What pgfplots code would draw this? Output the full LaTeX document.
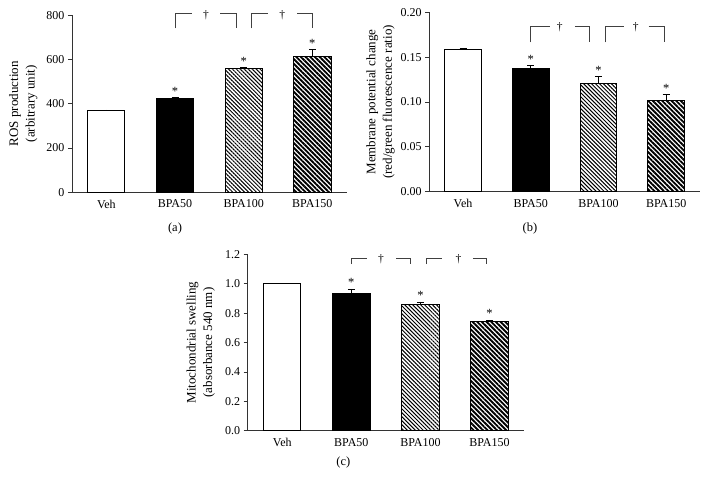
\documentclass[border=0pt]{standalone}
\usepackage{fontspec}
\setmainfont{Liberation Serif}
\usepackage{pgfplots}
\pgfplotsset{compat=1.18}
\usetikzlibrary{patterns.meta}
\tikzset{brk/.style={line width=0.8pt, black!75},
  ast/.style={above, font=\fontsize{12.5}{14}\selectfont, inner sep=2pt},
  dag/.style={font=\fontsize{11.5}{13}\selectfont}}
\pgfplotsset{
  panel/.style={
    scale only axis,
    axis lines=left,
    axis line style={-, line width=0.8pt, black!80},
    xmin=-0.5, xmax=3.5,
    xtick={0,1,2,3},
    xticklabels={Veh,BPA50,BPA100,BPA150},
    x tick style={draw=none},
    y tick style={line width=0.8pt, black!80},
    tick align=outside,
    major tick length=4pt,
    tick label style={font=\fontsize{12}{14}\selectfont},
    label style={font=\fontsize{13}{16.5}\selectfont},
    /pgf/number format/assume math mode=true,
    clip=false,
  },
  common/.style={ybar, bar width=0.54, bar shift=0pt, draw=black, line width=0.8pt,
    error bars/.cd, y dir=plus, y explicit,
    error bar style={line width=0.8pt, black},
    error mark options={rotate=90, mark size=3.5pt, line width=0.8pt, black}},
  veh/.style={fill=white, common},
  b50/.style={fill=black, common},
  b100/.style={pattern={Lines[angle=-45,distance=2.8pt,line width=1pt]}, common},
  b150/.style={pattern={Lines[angle=-45,distance=3.3pt,line width=1.9pt]}, common},
}
\begin{document}
\begin{tikzpicture}
\path[use as bounding box] (0,0) rectangle (709pt,498pt);
% (a)
\begin{axis}[panel, at={(72pt,305.7pt)}, anchor=south west,
  width=274.7pt, height=177pt,
  ymin=0, ymax=800, ytick={0,200,400,600,800},
  ylabel={ROS production\\(arbitrary unit)},
  y label style={align=center, at={(axis description cs:-0.177,0.5)}, anchor=center}]
\addplot[veh] coordinates {(0,370) +- (0,2)};
\addplot[b50] coordinates {(1,423) +- (0,6)};
\addplot[b100] coordinates {(2,558) +- (0,5)};
\addplot[b150] coordinates {(3,612) +- (0,33)};
\node[ast] at (axis cs:1,429) {*};
\node[ast] at (axis cs:2,563) {*};
\node[ast] at (axis cs:3,645) {*};
\draw[brk] (axis cs:1,741) |- (axis cs:1.25,809);
\draw[brk] (axis cs:1.66,809) -| (axis cs:1.89,741);
\draw[brk] (axis cs:2.11,741) |- (axis cs:2.35,809);
\draw[brk] (axis cs:2.78,809) -| (axis cs:3,741);
\node[dag] at (axis cs:1.45,800) {†};
\node[dag] at (axis cs:2.56,800) {†};
\end{axis}
% (b)
\begin{axis}[panel, at={(429.2pt,306.3pt)}, anchor=south west,
  width=270.8pt, height=179.4pt,
  ymin=0, ymax=0.2, ytick={0,0.05,0.10,0.15,0.20},
  yticklabel style={/pgf/number format/.cd, fixed, fixed zerofill, precision=2},
  ylabel={Membrane potential change\\(red/green fluorescence ratio)},
  y label style={align=center, at={(axis description cs:-0.18,0.5)}, anchor=center}]
\addplot[veh] coordinates {(0,0.159) +- (0,0.001)};
\addplot[b50] coordinates {(1,0.137) +- (0,0.004)};
\addplot[b100] coordinates {(2,0.121) +- (0,0.007)};
\addplot[b150] coordinates {(3,0.1015) +- (0,0.007)};
\node[ast] at (axis cs:1,0.141) {*};
\node[ast] at (axis cs:2,0.128) {*};
\node[ast] at (axis cs:3,0.1085) {*};
\draw[brk] (axis cs:1,0.1666) |- (axis cs:1.28,0.184);
\draw[brk] (axis cs:1.65,0.184) -| (axis cs:1.87,0.1666);
\draw[brk] (axis cs:2.10,0.1666) |- (axis cs:2.37,0.184);
\draw[brk] (axis cs:2.74,0.184) -| (axis cs:2.98,0.1666);
\node[dag] at (axis cs:1.43,0.183) {†};
\node[dag] at (axis cs:2.55,0.183) {†};
\end{axis}
% (c)
\begin{axis}[panel, at={(247.7pt,67.3pt)}, anchor=south west,
  width=276.3pt, height=176.4pt,
  ymin=0, ymax=1.2, ytick={0,0.2,0.4,0.6,0.8,1.0,1.2},
  yticklabel style={/pgf/number format/.cd, fixed, fixed zerofill, precision=1},
  ylabel={Mitochondrial swelling\\(absorbance 540 nm)},
  y label style={align=center, at={(axis description cs:-0.17,0.5)}, anchor=center}]
\addplot[veh] coordinates {(0,1.0) +- (0,0)};
\addplot[b50] coordinates {(1,0.937) +- (0,0.027)};
\addplot[b100] coordinates {(2,0.858) +- (0,0.018)};
\addplot[b150] coordinates {(3,0.746) +- (0,0.006)};
\node[ast] at (axis cs:1,0.964) {*};
\node[ast] at (axis cs:2,0.876) {*};
\node[ast] at (axis cs:3,0.752) {*};
\draw[brk] (axis cs:1,1.134) |- (axis cs:1.23,1.173);
\draw[brk] (axis cs:1.65,1.173) -| (axis cs:1.86,1.134);
\draw[brk] (axis cs:2.08,1.134) |- (axis cs:2.32,1.173);
\draw[brk] (axis cs:2.76,1.173) -| (axis cs:2.95,1.134);
\node[dag] at (axis cs:1.43,1.17) {†};
\node[dag] at (axis cs:2.55,1.17) {†};
\end{axis}
\node[font=\fontsize{12.5}{14}\selectfont] at (175pt,270pt) {(a)};
\node[font=\fontsize{12.5}{14}\selectfont] at (530pt,270pt) {(b)};
\node[font=\fontsize{12.5}{14}\selectfont] at (343.3pt,35.7pt) {(c)};
\end{tikzpicture}
\end{document}
